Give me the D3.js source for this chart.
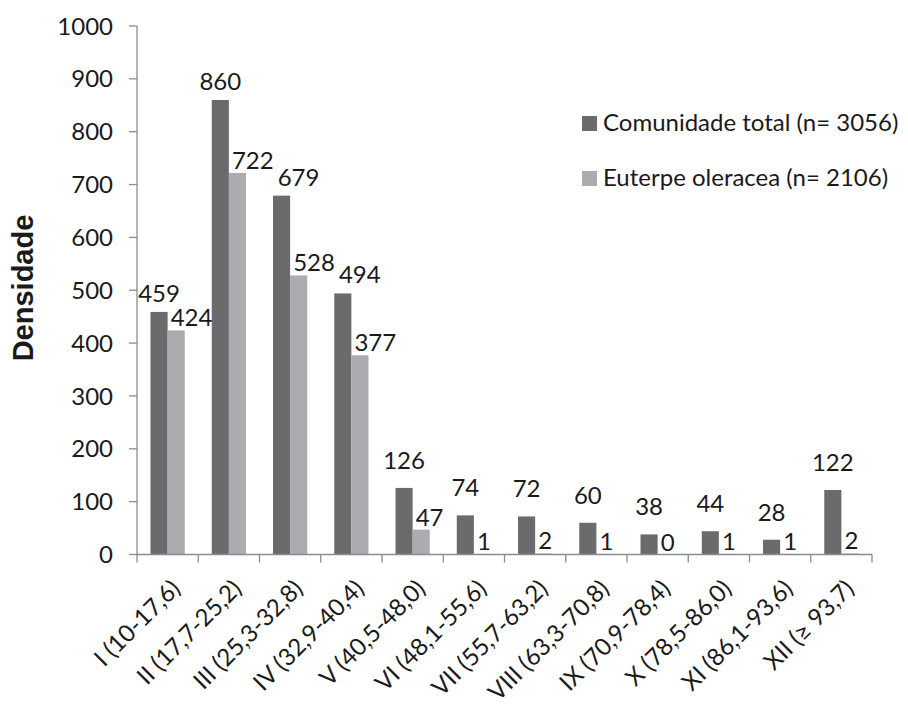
<!DOCTYPE html>
<meta charset="utf-8">
<style>
body { margin: 0; background: #fff; }
text { font-family: Lato, sans-serif; fill: #1a1a1a; }
.tick-label { font-size: 24px; }
.bar-label { font-size: 24px; }
.legend text { font-size: 24px; }
.ylabel { font-family: 'Liberation Sans', Arial, sans-serif; font-weight: bold; font-size: 29px; }
.axis-line { stroke: #8c8c8c; stroke-width: 1.3; }
</style>
<body>
<svg width="908" height="704"></svg>
<script src="https://d3js.org/d3.v7.min.js"></script>
<script>

var categories = ["I (10-17,6)", "II (17,7-25,2)", "III (25,3-32,8)", "IV (32,9-40,4)",
  "V (40,5-48,0)", "VI (48,1-55,6)", "VII (55,7-63,2)", "VIII (63,3-70,8)",
  "IX (70,9-78,4)", "X (78,5-86,0)", "XI (86,1-93,6)", "XII (\u2265 93,7)"];
var comunidade = [459, 860, 679, 494, 126, 74, 72, 60, 38, 44, 28, 122];
var euterpe = [424, 722, 528, 377, 47, 1, 2, 1, 0, 1, 1, 2];
var seriesNames = ["Comunidade total (n= 3056)", "Euterpe oleracea (n= 2106)"];
var yTicks = [0, 100, 200, 300, 400, 500, 600, 700, 800, 900, 1000];

var colors = ["#6a6b6d", "#abacaf"];

var svg = d3.select("svg");

var x0 = d3.scaleBand().domain(categories).range([137, 872]).padding(0);
var x1 = d3.scaleBand().domain([0, 1]).range([0, x0.bandwidth()])
  .paddingInner(0).paddingOuter(0.79);
var y = d3.scaleLinear().domain([0, 1000]).range([554.5, 26]);

var rows = categories.map(function(c, i) {
  return { cat: c, vals: [comunidade[i], euterpe[i]] };
});

// bars
var groups = svg.selectAll(".grp")
  .data(rows)
  .enter().append("g")
  .attr("class", "grp")
  .attr("transform", function(d) { return "translate(" + x0(d.cat) + ",0)"; });

groups.selectAll("rect")
  .data(function(d) { return d.vals.map(function(v, k) { return { k: k, v: v }; }); })
  .enter().append("rect")
  .attr("x", function(d) { return x1(d.k); })
  .attr("width", x1.bandwidth())
  .attr("y", function(d) { return y(d.v); })
  .attr("height", function(d) { return y(0) - y(d.v); })
  .style("fill", function(d) { return colors[d.k]; });

// value labels (dark: centred above, light: starting at bar left)
var labels = svg.append("g");
var darkLabels = labels.selectAll(".dark")
  .data(rows)
  .enter().append("text")
  .attr("class", "bar-label dark")
  .attr("x", function(d) { return x0(d.cat) + x1(0) + x1.bandwidth() / 2; })
  .attr("y", function(d) { return y(d.vals[0]) - (d.vals[0] > 200 ? 10 : 19); })
  .attr("text-anchor", "middle")
  .text(function(d) { return d.vals[0]; });

var lightLabels = labels.selectAll(".light")
  .data(rows)
  .enter().append("text")
  .attr("class", "bar-label light")
  .attr("x", function(d) { return x0(d.cat) + x1(1) + 3; })
  .attr("y", function(d) { return y(d.vals[1]) - 4; })
  .attr("text-anchor", "start")
  .text(function(d) { return d.vals[1]; });

// push a dark label right when it runs into the previous group's light label
var lightBoxes = lightLabels.nodes().map(function(n) { return n.getBBox(); });
darkLabels.each(function(d, i) {
  if (i == 0) return;
  var b = this.getBBox(), p = lightBoxes[i - 1];
  var overlapX = p.x + p.width - b.x;
  var overlapY = Math.min(b.y + b.height, p.y + p.height) - Math.max(b.y, p.y);
  if (overlapX > 0 && overlapY > 0) {
    d3.select(this).attr("x", +d3.select(this).attr("x") + overlapX + 4);
  }
});

// y axis
svg.append("line").attr("class", "axis-line")
  .attr("x1", 137).attr("x2", 137).attr("y1", y(1000)).attr("y2", y(0));
svg.selectAll(".ytick")
  .data(yTicks)
  .enter().append("line")
  .attr("class", "axis-line")
  .attr("x1", 129).attr("x2", 137)
  .attr("y1", function(d) { return y(d); })
  .attr("y2", function(d) { return y(d); });
svg.selectAll(".ylab")
  .data(yTicks)
  .enter().append("text")
  .attr("class", "tick-label")
  .attr("x", 113)
  .attr("y", function(d) { return y(d); })
  .attr("dy", "0.36em")
  .attr("text-anchor", "end")
  .text(function(d) { return d; });

// x axis
svg.append("line").attr("class", "axis-line")
  .attr("x1", 137).attr("x2", 872).attr("y1", y(0)).attr("y2", y(0));
var bounds = categories.map(function(c) { return x0(c); }).concat([x0.range()[1]]);
svg.selectAll(".xtick")
  .data(bounds)
  .enter().append("line")
  .attr("class", "axis-line")
  .attr("x1", function(d) { return d; }).attr("x2", function(d) { return d; })
  .attr("y1", y(0)).attr("y2", y(0) + 8);

svg.selectAll(".xlab")
  .data(categories)
  .enter().append("text")
  .attr("class", "tick-label")
  .attr("transform", function(d) {
    return "translate(" + (x0(d) + x0.bandwidth() / 2 + 8) + "," + 584 + ") rotate(-45)";
  })
  .attr("dy", "0.36em")
  .attr("text-anchor", "end")
  .text(function(d) { return d; });

// y title
svg.append("text")
  .attr("class", "ylabel")
  .attr("transform", "translate(33,288) rotate(-90)")
  .attr("text-anchor", "middle")
  .text("Densidade");

// legend
var legend = svg.append("g").attr("class", "legend")
  .selectAll("g")
  .data(seriesNames)
  .enter().append("g")
  .attr("transform", function(d, i) { return "translate(582," + (131 + i * 55) + ")"; });
legend.append("rect")
  .attr("x", 0).attr("y", -15).attr("width", 15).attr("height", 15)
  .style("fill", function(d, i) { return colors[i]; });
legend.append("text")
  .attr("x", 21).attr("y", 0)
  .text(function(d) { return d; });

</script>
</body>
